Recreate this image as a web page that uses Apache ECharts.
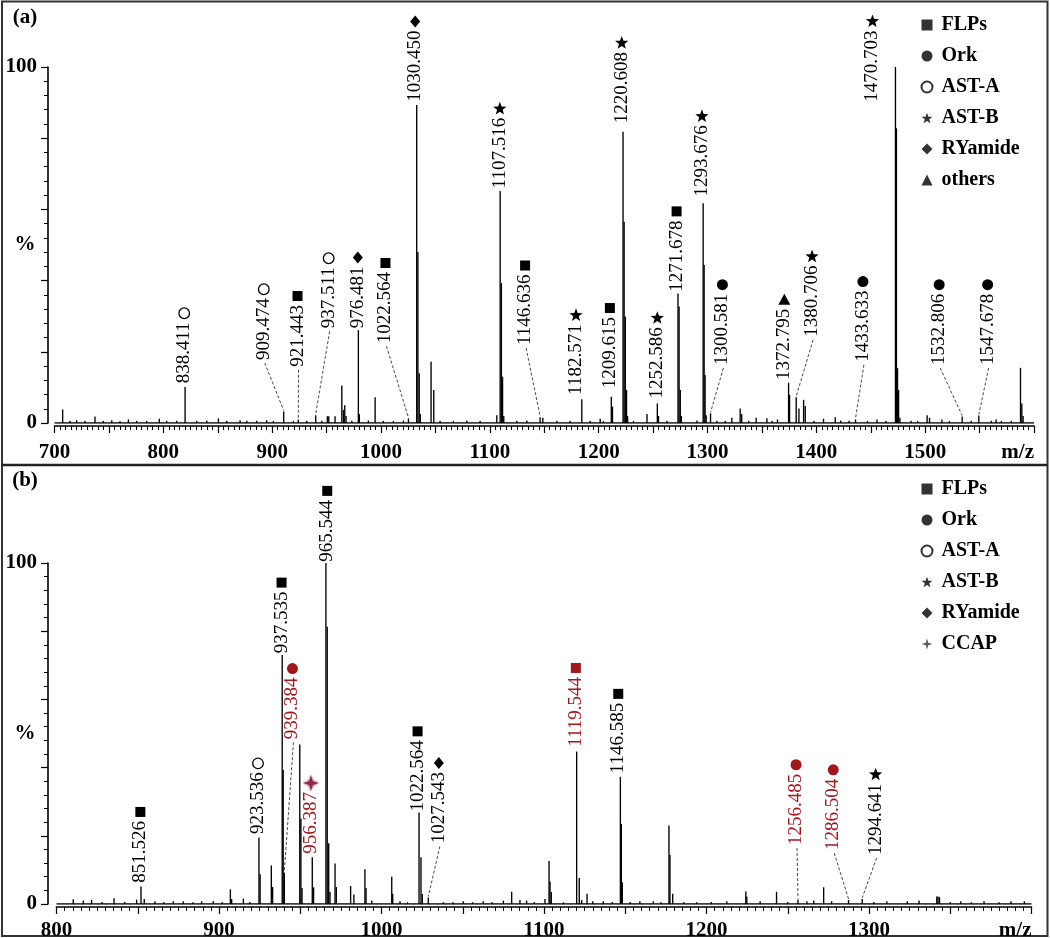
<!DOCTYPE html>
<html>
<head>
<meta charset="utf-8">
<script src="https://cdn.jsdelivr.net/npm/echarts@6/dist/echarts.min.js"></script>
<style>
  html, body { margin: 0; padding: 0; background: #fff; }
  #chart { width: 1050px; height: 938px; }
</style>
</head>
<body>
<div id="chart"></div>
<script>
// ---------------- DATA ----------------
// Panel (a) spectrum: m/z positions and relative intensities (%)
const specA_mz = [707.5,714.2,720.4,728.0,737.2,744.9,752.6,760.2,767.9,775.5,784.7,796.3,803.1,812.3,820.0,830.7,839.9,850.6,858.3,870.5,876.7,885.8,895.0,901.1,910.6,919.5,924.0,931.8,940.0,945.6,950.7,952.0,957.8,964.0,965.5,966.7,967.9,973.2,979.2,980.1,988.4,994.6,1002.2,1011.4,1020.6,1025.2,1032.8,1033.9,1035.1,1036.1,1046.0,1048.5,1054.3,1066.5,1078.8,1091.1,1106.4,1109.5,1110.6,1111.7,1112.8,1124.8,1134.0,1146.2,1148.7,1161.6,1173.8,1184.5,1192.2,1201.4,1204.4,1211.6,1212.7,1222.4,1223.4,1224.5,1225.6,1226.6,1232.0,1244.4,1253.9,1255.0,1262.7,1272.9,1273.9,1275.0,1276.0,1290.3,1296.0,1296.9,1297.8,1298.8,1302.8,1308.6,1316.3,1322.4,1330.0,1331.4,1337.9,1344.7,1354.6,1359.4,1364.3,1374.5,1375.4,1381.5,1384.0,1388.3,1389.8,1397.8,1406.6,1417.4,1422.4,1430.1,1436.0,1447.0,1455.7,1463.9,1472.7,1473.6,1474.6,1475.6,1476.8,1487.0,1493.1,1501.8,1504.0,1515.4,1522.3,1534.0,1542.3,1549.3,1560.7,1565.2,1570.0,1579.1,1587.6,1588.8,1590.0];
const specA_int = [3.8,0.6,0.8,0.6,1.8,0.6,0.8,0.5,1.0,0.6,0.6,1.2,0.6,0.6,10.1,0.6,0.7,1.3,0.6,0.8,0.6,0.6,0.8,0.6,3.2,0.6,1.0,0.6,2.2,0.6,1.9,1.9,1.9,10.5,3.7,5.0,2.0,0.6,26.1,2.5,0.7,7.2,0.6,0.6,0.7,1.3,89.3,48.0,14.0,2.5,17.2,9.3,0.6,0.6,0.7,0.6,2.2,65.2,39.3,13.0,2.0,0.6,0.7,1.6,1.5,0.6,0.6,6.7,0.6,1.2,0.6,7.4,4.6,81.8,56.5,29.9,9.3,2.0,0.6,2.5,5.5,2.0,0.6,36.4,32.7,9.3,2.0,0.7,61.7,44.4,13.5,2.2,2.7,0.6,0.6,1.5,4.1,2.5,0.6,1.5,1.3,0.6,1.0,11.3,7.9,7.2,4.1,6.5,4.8,0.6,1.2,1.6,0.7,0.6,1.0,0.6,1.0,0.6,100,82.8,15.4,9.3,1.5,0.6,0.6,2.2,1.5,1.0,0.6,1.8,0.6,2.1,0.6,1.0,0.6,0.6,15.5,5.5,2.0];

// Panel (b) spectrum
const specB_mz = [810.3,816.5,821.6,828.0,835.4,842.0,849.3,852.0,854.0,860.6,866.0,871.9,878.0,884.0,889.3,896.5,902.0,907.0,907.8,915.0,919.0,924.6,925.3,932.2,933.0,938.9,939.5,940.2,949.7,950.4,951.1,957.4,958.2,965.8,966.6,967.5,968.3,971.4,972.2,981.0,983.0,989.8,990.5,994.0,1006.3,1006.9,1011.4,1016.0,1023.1,1024.3,1025.1,1028.8,1038.0,1044.0,1050.3,1056.0,1062.6,1068.0,1075.0,1080.1,1085.2,1089.3,1094.0,1100.6,1103.1,1103.7,1104.5,1112.0,1120.1,1121.7,1123.2,1126.5,1130.0,1136.5,1142.0,1147.0,1147.6,1148.2,1153.0,1159.0,1167.3,1172.0,1176.9,1177.5,1179.2,1186.0,1194.0,1203.0,1212.5,1224.2,1224.8,1233.0,1243.1,1250.0,1256.3,1261.8,1266.0,1272.1,1277.0,1287.4,1295.8,1303.0,1311.0,1323.6,1330.8,1341.7,1342.5,1343.4,1350.0,1356.5,1363.0,1370.8,1380.0,1387.4,1395.6];
const specB_int = [1.4,1.0,1.2,0.6,1.7,0.6,1.3,5.1,1.5,0.8,0.5,0.8,0.8,0.5,0.8,0.8,0.5,4.3,1.5,1.6,0.6,19.5,8.7,11.3,5.0,73.0,39.3,9.2,46.8,25.1,4.7,13.7,4.9,100,81.3,17.8,3.6,11.9,5.0,5.3,2.8,10.2,4.7,1.0,8.0,3.0,0.8,0.5,26.8,13.7,2.9,1.9,0.5,0.5,0.8,0.5,0.8,0.5,1.0,3.6,1.2,1.0,0.6,1.5,12.6,6.5,3.5,0.5,44.7,7.6,1.2,3.0,0.8,0.8,0.6,37.3,23.5,6.4,0.6,0.8,0.8,0.5,23.0,14.4,3.0,0.5,0.5,0.6,0.8,3.7,2.2,0.8,3.6,0.6,1.3,0.8,1.0,4.9,0.8,1.2,1.5,0.6,0.8,0.8,1.0,2.2,2.2,2.0,0.6,0.8,0.5,0.8,0.5,0.8,0.8];

// Annotations, panel (a)
const annA_text   = ['838.411','909.474','921.443','937.511','976.481','1022.564','1030.450','1107.516','1146.636','1182.571','1209.615','1220.608','1252.586','1271.678','1293.676','1300.581','1372.795','1380.706','1433.633','1470.703','1532.806','1547.678'];
const annA_class  = ['AST-A','AST-A','FLPs','AST-A','RYamide','FLPs','RYamide','AST-B','FLPs','AST-B','FLPs','AST-B','AST-B','FLPs','AST-B','Ork','others','AST-B','Ork','AST-B','Ork','Ork'];
const annA_peakMz = [820.0,910.6,924.0,940.0,979.2,1025.2,1032.8,1109.5,1146.2,1184.5,1211.6,1222.4,1253.9,1272.9,1296.0,1302.8,1374.5,1381.5,1436.0,1472.7,1534.0,1549.3];
const annA_peakIn = [10.1,3.2,1.0,2.2,26.1,1.3,89.3,65.2,1.6,6.7,7.4,81.8,5.5,36.4,61.7,2.7,11.3,7.2,1.0,100,1.8,2.1];
const annA_labMz  = [819.2,892.3,923.3,951.9,978.7,1004.1,1031.4,1109.2,1132.4,1179.2,1210.3,1221.2,1253.9,1271.6,1294.9,1313.7,1370.6,1396.1,1442.8,1451.6,1512.9,1557.4];
const annA_labIn  = [11.15,17.7,15.8,26.6,26.6,22.4,90.25,65.9,21.9,7.9,9.75,84.2,6.9,36.9,63.6,16.3,12.1,24.2,17.2,90.25,16.3,16.3];
const annA_leader = [0,1,1,1,0,1,0,0,1,0,0,0,0,0,0,1,0,1,1,0,1,1];
const annA_red    = [0,0,0,0,0,0,0,0,0,0,0,0,0,0,0,0,0,0,0,0,0,0];

// Annotations, panel (b)
const annB_text   = ['851.526','923.536','937.535','939.384','956.387','965.544','1022.564','1027.543','1119.544','1146.585','1256.485','1286.504','1294.641'];
const annB_class  = ['FLPs','AST-A','FLPs','Ork','CCAP','FLPs','FLPs','RYamide','FLPs','FLPs','Ork','Ork','AST-B'];
const annB_peakMz = [852.0,924.6,938.9,940.2,957.4,965.8,1023.1,1028.8,1120.1,1147.0,1256.3,1287.4,1295.8];
const annB_peakIn = [5.1,19.5,73.0,9.2,13.7,100,26.8,1.9,44.7,37.3,1.3,1.2,1.5];
const annB_labMz  = [851.6,924.0,938.5,945.2,956.6,966.6,1022.2,1035.3,1119.6,1145.7,1255.1,1278.0,1304.1];
const annB_labIn  = [6.25,20.5,73.5,48.3,14.7,100.4,27.1,17.8,46.1,38.3,17.3,15.8,14.4];
const annB_leader = [0,0,0,1,0,0,0,1,0,0,1,1,1];
const annB_red    = [0,0,0,1,1,0,0,0,1,0,1,1,0];

// Axes / tick labels
const xRangeA = [700, 1600];
const xRangeB = [800, 1400];
const xLabelsA = [700,800,900,1000,1100,1200,1300,1400,1500];
const xLabelsB = [800,900,1000,1100,1200,1300];
const yLabels = [0, 100];
const legendA = ['FLPs','Ork','AST-A','AST-B','RYamide','others'];
const legendB = ['FLPs','Ork','AST-A','AST-B','RYamide','CCAP'];

// ---------------- STYLE / HELPERS ----------------
const FONT = '"Liberation Serif", "Times New Roman", Times, serif';
const RED = '#a3161b';
const CCAP_COLOR = '#8e2a4a';
const ANN_SIZE = 19;
const measureCtx = document.createElement('canvas').getContext('2d');
function textWidth(t) {
  measureCtx.font = ANN_SIZE + 'px ' + FONT;
  return measureCtx.measureText(t).width;
}
function starPoints(cx, cy, R, r) {
  const pts = [];
  for (let k = 0; k < 10; k++) {
    const ang = -Math.PI / 2 + k * Math.PI / 5;
    const rad = k % 2 === 0 ? R : r;
    pts.push([cx + rad * Math.cos(ang), cy + rad * Math.sin(ang)]);
  }
  return pts;
}
function ptsToPath(pts) {
  return 'path://M' + pts.map(p => p[0].toFixed(2) + ' ' + p[1].toFixed(2)).join(' L') + ' Z';
}
const sparkle = (cx, cy, R, r) => [[cx, cy - R], [cx + r, cy - r], [cx + R, cy], [cx + r, cy + r], [cx, cy + R], [cx - r, cy + r], [cx - R, cy], [cx - r, cy - r]];

function symbolShape(cls, cx, cy, color) {
  switch (cls) {
    case 'FLPs': return { type: 'rect', shape: { x: cx - 5, y: cy - 5, width: 10, height: 10 }, style: { fill: color } };
    case 'Ork': return { type: 'circle', shape: { cx, cy, r: 5.5 }, style: { fill: color } };
    case 'AST-A': return { type: 'circle', shape: { cx, cy, r: 5.3 }, style: { fill: '#fff', stroke: color, lineWidth: 1.3 } };
    case 'AST-B': return { type: 'polygon', shape: { points: starPoints(cx, cy, 7, 2.9) }, style: { fill: color } };
    case 'RYamide': return { type: 'polygon', shape: { points: [[cx, cy - 6], [cx + 5, cy], [cx, cy + 6], [cx - 5, cy]] }, style: { fill: color } };
    case 'others': return { type: 'polygon', shape: { points: [[cx, cy - 6], [cx + 6, cy + 5], [cx - 6, cy + 5]] }, style: { fill: color } };
    case 'CCAP': return { type: 'polygon', shape: { points: sparkle(cx, cy, 8, 1.8) }, style: { fill: CCAP_COLOR, shadowBlur: 3, shadowColor: CCAP_COLOR } };
  }
}

function stickRender(params, api) {
  const top = api.coord([api.value(0), api.value(1)]);
  const bot = api.coord([api.value(0), 0]);
  return { type: 'line', shape: { x1: bot[0], y1: bot[1], x2: top[0], y2: top[1] }, style: { stroke: '#000', lineWidth: 1.35 } };
}

function annRender(texts, classes, leaders, reds) {
  return function (params, api) {
    const i = params.dataIndex;
    const lp = api.coord([api.value(0), api.value(1)]);
    const pp = api.coord([api.value(2), api.value(3)]);
    const color = reds[i] ? RED : '#000';
    const x = lp[0], y = lp[1];
    const tw = textWidth(texts[i]);
    const children = [];
    if (leaders[i]) {
      children.push({ type: 'line', shape: { x1: x + 1, y1: y + 3, x2: pp[0], y2: pp[1] - 1 },
        style: { stroke: '#333', lineWidth: 0.9, lineDash: [3, 2] } });
    }
    children.push({ type: 'text', x: x, y: y, rotation: Math.PI / 2,
      style: { text: texts[i], fontFamily: FONT, fontSize: ANN_SIZE, fill: color, align: 'left', verticalAlign: 'middle' } });
    children.push(symbolShape(classes[i], x, y - tw - 9, color));
    return { type: 'group', children };
  };
}

function zipRows(a, b) { return a.map((v, i) => [v, b[i]]); }
function annRows(lx, ly, px, py) { return lx.map((v, i) => [v, ly[i], px[i], py[i]]); }

const axisFont = { fontFamily: FONT, fontWeight: 'bold', fontSize: 21, color: '#000' };

function xAxisCfg(grid, range, labels, margin) {
  return {
    type: 'value', gridIndex: grid, min: range[0], max: range[1], interval: 50, offset: 3,
    axisLine: { show: true, onZero: false, lineStyle: { color: '#000', width: 1.6 } },
    axisTick: { show: true, length: 7, lineStyle: { color: '#000', width: 1.2 } },
    minorTick: { show: true, splitNumber: 10, length: 4, lineStyle: { color: '#000', width: 1 } },
    splitLine: { show: false },
    axisLabel: Object.assign({ margin: margin, interval: 0, showMaxLabel: true, showMinLabel: true, alignMaxLabel: 'right',
      hideOverlap: false,
      formatter: v => v === range[1] ? 'm/z' : (labels.indexOf(v) >= 0 ? String(v) : '') }, axisFont)
  };
}
function yAxisCfg(grid, offset) {
  return {
    type: 'value', gridIndex: grid, min: 0, max: 100, interval: 20, offset: offset,
    axisLine: { show: true, onZero: false, lineStyle: { color: '#000', width: 1.6 } },
    axisTick: { show: true, length: 7, lineStyle: { color: '#000', width: 1.2 } },
    minorTick: { show: true, splitNumber: 5, length: 4, lineStyle: { color: '#000', width: 1 } },
    splitLine: { show: false },
    axisLabel: Object.assign({ margin: 11, formatter: v => yLabels.indexOf(v) >= 0 ? String(v) : '' }, axisFont),
    name: '%', nameLocation: 'middle', nameGap: 23, nameRotate: 0, nameMoveOverlap: false,
    nameTextStyle: Object.assign({ align: 'center', verticalAlign: 'middle' }, axisFont)
  };
}

const starIcon = ptsToPath(starPoints(10, 10, 10, 4.1));
const sparkIcon = ptsToPath(sparkle(10, 10, 10, 2.3));
const legendSymbols = { 'FLPs': 'rect', 'Ork': 'circle', 'AST-A': 'emptyCircle', 'AST-B': starIcon, 'RYamide': 'diamond', 'others': 'triangle', 'CCAP': sparkIcon };
const legendSeries = Object.keys(legendSymbols).map(name => ({
  type: 'scatter', name, data: [], xAxisIndex: 0, yAxisIndex: 0, symbol: legendSymbols[name], symbolKeepAspect: true,
  itemStyle: { color: name === 'CCAP' ? '#333' : '#000', borderColor: '#000', borderWidth: name === 'AST-A' ? 1.3 : 0 }
}));

function legendCfg(names, top) {
  return {
    data: names, orient: 'vertical', left: 915.5, top: top, itemWidth: 11, itemHeight: 11, itemGap: 11,
    selectedMode: false,
    textStyle: { fontFamily: FONT, fontWeight: 'bold', fontSize: 20, lineHeight: 20, color: '#000', padding: [0, 0, 0, 4] }
  };
}

const chart = echarts.init(document.getElementById('chart'), null, { renderer: 'canvas' });
chart.setOption({
  animation: false,
  backgroundColor: '#fff',
  grid: [
    { left: 54.5, right: 16, top: 67, bottom: 515, containLabel: false, outerBoundsMode: 'none' },
    { left: 56.5, right: 18.5, top: 563, bottom: 34, containLabel: false, outerBoundsMode: 'none' }
  ],
  xAxis: [xAxisCfg(0, xRangeA, xLabelsA, 16), xAxisCfg(1, xRangeB, xLabelsB, 13)],
  yAxis: [yAxisCfg(0, 6.5), yAxisCfg(1, 8.5)],
  legend: [legendCfg(legendA, 10), legendCfg(legendB, 474)],
  graphic: [
    { type: 'rect', shape: { x: 2, y: 1.5, width: 1045.5, height: 934.5 }, style: { fill: 'none', stroke: '#333', lineWidth: 2 }, silent: true },
    { type: 'line', shape: { x1: 2, y1: 465, x2: 1047.5, y2: 465 }, style: { stroke: '#222', lineWidth: 2.5 }, silent: true },
    { type: 'text', x: 25, y: 17.5, style: { text: '(a)', fontFamily: FONT, fontWeight: 'bold', fontSize: 21, fill: '#000', align: 'center', verticalAlign: 'middle' } },
    { type: 'text', x: 25, y: 481, style: { text: '(b)', fontFamily: FONT, fontWeight: 'bold', fontSize: 21, fill: '#000', align: 'center', verticalAlign: 'middle' } }
  ],
  series: [
    { type: 'line', xAxisIndex: 0, yAxisIndex: 0, data: [[xRangeA[0], 0], [xRangeA[1], 0]], symbol: 'none', lineStyle: { color: '#000', width: 1.5 }, silent: true },
    { type: 'custom', xAxisIndex: 0, yAxisIndex: 0, data: zipRows(specA_mz, specA_int), renderItem: stickRender, clip: false, silent: true },
    { type: 'custom', xAxisIndex: 0, yAxisIndex: 0, data: annRows(annA_labMz, annA_labIn, annA_peakMz, annA_peakIn),
      renderItem: annRender(annA_text, annA_class, annA_leader, annA_red), clip: false, silent: true },
    { type: 'line', xAxisIndex: 1, yAxisIndex: 1, data: [[xRangeB[0], 0], [xRangeB[1], 0]], symbol: 'none', lineStyle: { color: '#000', width: 1.5 }, silent: true },
    { type: 'custom', xAxisIndex: 1, yAxisIndex: 1, data: zipRows(specB_mz, specB_int), renderItem: stickRender, clip: false, silent: true },
    { type: 'custom', xAxisIndex: 1, yAxisIndex: 1, data: annRows(annB_labMz, annB_labIn, annB_peakMz, annB_peakIn),
      renderItem: annRender(annB_text, annB_class, annB_leader, annB_red), clip: false, silent: true }
  ].concat(legendSeries)
});
</script>
</body>
</html>
